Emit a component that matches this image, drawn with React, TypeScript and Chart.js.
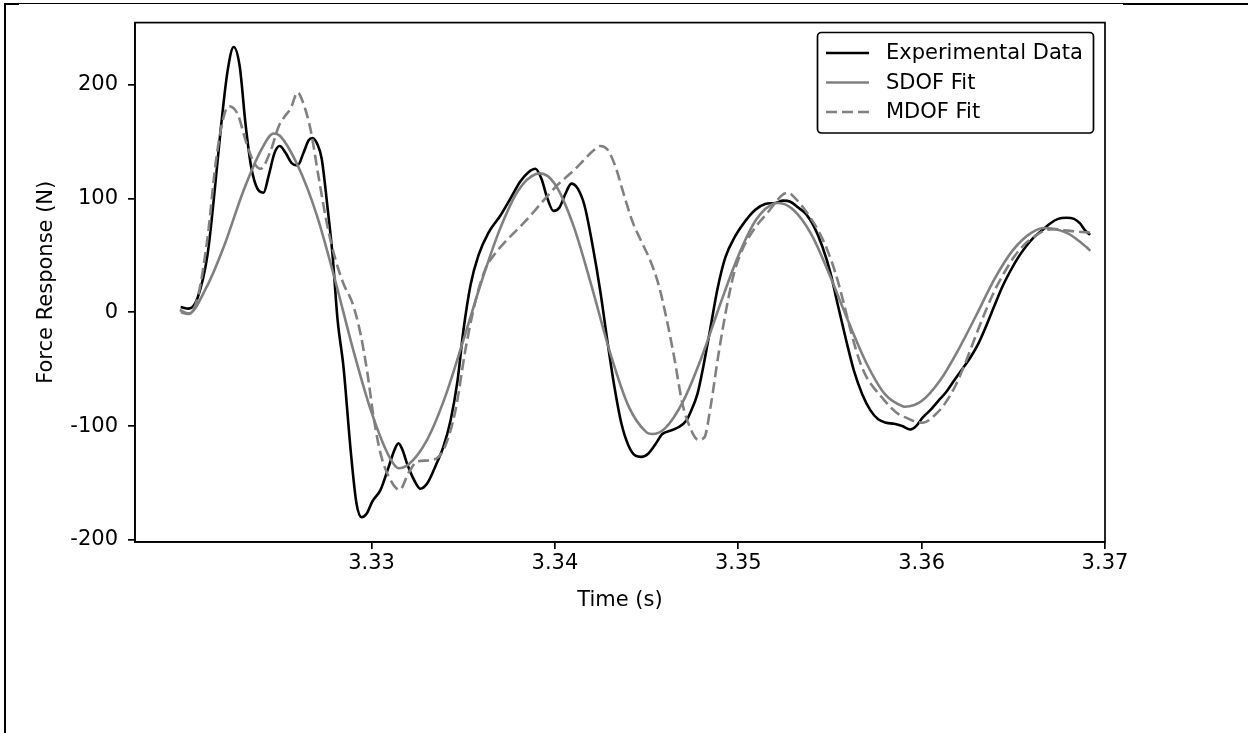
import { useEffect, useRef } from "react";
import { Chart, registerables } from "chart.js";

Chart.register(...registerables);

// ---- data (time in s, force in N) ----
const expTime = [
  3.31959, 3.32003, 3.32052, 3.32106, 3.32139, 3.32177, 3.32215, 3.32248, 3.32281, 3.32313,
  3.32341, 3.32362, 3.3239, 3.32411, 3.32439, 3.32471, 3.32499, 3.32531, 3.32564, 3.32597,
  3.32629, 3.32657, 3.32678, 3.32706, 3.32728, 3.3276, 3.32787, 3.32815, 3.32847, 3.32886,
  3.32918, 3.32946, 3.32973, 3.33005, 3.33049, 3.33093, 3.33125, 3.33147, 3.33169, 3.33196,
  3.33234, 3.33267, 3.33305, 3.33349, 3.33392, 3.33431, 3.33469, 3.33501, 3.3354, 3.33583,
  3.33638, 3.33703, 3.33758, 3.33812, 3.33856, 3.33894, 3.33927, 3.33959, 3.33992, 3.34025,
  3.34057, 3.3409, 3.34123, 3.34161, 3.34204, 3.34248, 3.34286, 3.34324, 3.34363, 3.34401,
  3.34439, 3.34472, 3.3451, 3.34548, 3.34586, 3.3463, 3.34673, 3.34717, 3.34739, 3.34777,
  3.34809, 3.34848, 3.34886, 3.34929, 3.34984, 3.35038, 3.35093, 3.35147, 3.35202, 3.35245,
  3.35284, 3.35327, 3.35371, 3.35414, 3.35458, 3.35502, 3.35545, 3.35589, 3.35632, 3.35676,
  3.3572, 3.35763, 3.35807, 3.3585, 3.35894, 3.35938, 3.3597, 3.36003, 3.36047, 3.3609,
  3.36134, 3.36177, 3.36221, 3.36265, 3.36308, 3.36352, 3.36395, 3.36439, 3.36483, 3.36526,
  3.3657, 3.36613, 3.36657, 3.36701, 3.36744, 3.36788, 3.36831, 3.36864, 3.36891, 3.36919,
];
const expForce = [
  4.6, 3.2, 13, 51, 98, 160, 212, 233, 216, 165,
  130, 115, 106, 105, 120, 140, 146, 140, 131, 129,
  140, 151, 153, 147, 135, 92, 51, -7, -48, -121,
  -168, -180, -177, -166, -156, -136, -121, -115, -121, -134,
  -148, -155, -150, -135, -118, -95, -60, -16, 24, 50,
  70, 85, 100, 115, 123, 126, 117, 100, 89, 92,
  104, 113, 109, 94, 60, 18, -25, -65, -98, -117,
  -126, -127, -124, -116, -107, -104, -101, -95, -88, -72,
  -48, -14, 20, 48, 67, 80, 90, 95, 96, 98,
  97, 92, 86, 75, 58, 35, 5, -25, -52, -72,
  -86, -94, -97, -98, -100, -103, -100, -93, -86, -78,
  -70, -60, -50, -40, -28, -12, 5, 22, 36, 48,
  58, 66, 72, 78, 82, 83, 82, 78, 72, 68,
];

const sdofTime = [
  3.3196, 3.32, 3.321, 3.322, 3.323, 3.324, 3.32466, 3.325, 3.326, 3.327,
  3.328, 3.329, 3.33, 3.331, 3.33147, 3.332, 3.333, 3.334, 3.335, 3.336,
  3.337, 3.338, 3.339, 3.33921, 3.34, 3.341, 3.342, 3.343, 3.344, 3.345,
  3.34531, 3.346, 3.347, 3.348, 3.349, 3.35, 3.351, 3.352, 3.35218, 3.353,
  3.354, 3.355, 3.356, 3.357, 3.358, 3.359, 3.3591, 3.36, 3.361, 3.362,
  3.363, 3.364, 3.365, 3.366, 3.36673, 3.367, 3.368, 3.369, 3.3692,
];
const sdofForce = [
  0, -1.5, 22, 60, 106, 143, 157, 155, 128, 86,
  29, -33, -88, -128, -137, -134, -113, -75, -25, 27,
  73, 107, 121.6, 122, 112.6, 76.5, 23, -35, -82, -105.5,
  -107, -102, -78, -39.5, 6.4, 49.5, 81.8, 95.7, 96, 90,
  68, 32, -8, -45, -72, -82.8, -83, -78, -60, -33,
  -2, 30, 55, 70, 74, 73.8, 69, 57, 54,
];

const mdofTime = [
  3.31954, 3.32003, 3.32052, 3.32106, 3.3215, 3.32188, 3.32221, 3.3227, 3.32313, 3.32357,
  3.32395, 3.3245, 3.32493, 3.32531, 3.32559, 3.32597, 3.32629, 3.32668, 3.32711, 3.3276,
  3.32804, 3.32847, 3.32896, 3.3294, 3.32978, 3.33011, 3.33049, 3.33093, 3.33153, 3.33202,
  3.33251, 3.33322, 3.33392, 3.33458, 3.33512, 3.33567, 3.33621, 3.33676, 3.3373, 3.33785,
  3.33839, 3.33894, 3.33948, 3.34003, 3.34057, 3.34112, 3.34166, 3.3421, 3.34248, 3.34286,
  3.3433, 3.34373, 3.34422, 3.34472, 3.34521, 3.34564, 3.34608, 3.34651, 3.34695, 3.34739,
  3.34782, 3.34815, 3.34848, 3.34891, 3.34935, 3.34978, 3.35022, 3.35066, 3.35109, 3.35153,
  3.35196, 3.3524, 3.35273, 3.35311, 3.35354, 3.35398, 3.35442, 3.35485, 3.35529, 3.35572,
  3.35616, 3.3566, 3.35703, 3.35747, 3.3579, 3.35834, 3.35878, 3.35921, 3.35965, 3.36008,
  3.36074, 3.36128, 3.36183, 3.36237, 3.36292, 3.36346, 3.36401, 3.36455, 3.3651, 3.36564,
  3.36619, 3.36673, 3.36728, 3.36782, 3.36837, 3.36919,
];
const mdofForce = [
  2, -1, 13, 66, 131, 168, 181, 174, 151, 132,
  126, 142, 163, 173, 179, 193, 183, 160, 119, 75,
  46, 25, 8, -19, -54, -92, -124, -144, -156, -141,
  -131, -130, -121, -86, -33, 10, 38, 52, 62, 71,
  80, 90, 100, 110, 118, 126, 135, 142, 146, 143,
  128, 105, 80, 62, 45, 25, -5, -40, -80, -102,
  -112, -110, -84, -38, 3, 35, 55, 68, 78, 86,
  95, 103, 105, 100, 92, 82, 70, 55, 35, 10,
  -18, -42, -58, -68, -76, -84, -90, -93, -96, -97,
  -90, -80, -65, -45, -22, 0, 20, 36, 50, 60,
  67, 72, 73, 72, 71, 70,
];

const seriesLabels = ["Experimental Data", "SDOF Fit", "MDOF Fit"];
const xTicks = [3.33, 3.34, 3.35, 3.36, 3.37];
const yTicks = [-200, -100, 0, 100, 200];
const xRange = [3.3171, 3.37];
const yRange = [-201.8, 254.4];
const xTitle = "Time (s)";
const yTitle = "Force Response (N)";

const FONT = "DejaVu Sans";
const FS = 21;

const pts = (xs: number[], ys: number[]) => xs.map((x, i) => ({ x, y: ys[i] }));

const framePlugin = {
  id: "frameAndLegend",
  afterDraw(chart: any) {
    const { ctx, chartArea: a } = chart;
    ctx.save();
    ctx.strokeStyle = "#000";
    ctx.lineWidth = 1.7;
    ctx.strokeRect(a.left, a.top, a.right - a.left, a.bottom - a.top);
    ctx.fillStyle = "#000";
    ctx.fillRect(4, 3, 2, 730);
    ctx.fillRect(4, 3, 15, 2);
    ctx.fillRect(19, 3, 1104, 1);
    ctx.fillRect(1123, 3, 125, 2);
    const lx = 817.5, ly = 32.5, lw = 276, lh = 100.5;
    ctx.beginPath();
    ctx.roundRect(lx, ly, lw, lh, 4);
    ctx.fillStyle = "#fff";
    ctx.fill();
    ctx.lineWidth = 1.7;
    ctx.strokeStyle = "#000";
    ctx.stroke();
    ctx.font = `${FS}px "${FONT}"`;
    ctx.textBaseline = "middle";
    ctx.textAlign = "left";
    chart.data.datasets.forEach((ds: any, i: number) => {
      const y = 53 + i * 29.5;
      ctx.beginPath();
      ctx.setLineDash(ds.borderDash || []);
      ctx.strokeStyle = ds.borderColor;
      ctx.lineWidth = ds.borderWidth;
      ctx.moveTo(826, y);
      ctx.lineTo(869, y);
      ctx.stroke();
      ctx.setLineDash([]);
      ctx.fillStyle = "#000";
      ctx.fillText(ds.label, 886, y + 1);
    });
    ctx.restore();
  },
};

export default function App() {
  const ref = useRef<HTMLCanvasElement>(null);
  useEffect(() => {
    Chart.defaults.font.family = FONT;
    Chart.defaults.color = "#000";
    const chart = new Chart(ref.current!, {
      type: "line",
      data: {
        datasets: [
          {
            label: seriesLabels[0],
            data: pts(expTime, expForce),
            borderColor: "#000000",
            borderWidth: 2.6,
            pointRadius: 0,
            cubicInterpolationMode: "monotone",
            order: 3,
          },
          {
            label: seriesLabels[1],
            data: pts(sdofTime, sdofForce),
            borderColor: "#808080",
            borderWidth: 2.6,
            pointRadius: 0,
            cubicInterpolationMode: "monotone",
            order: 2,
          },
          {
            label: seriesLabels[2],
            data: pts(mdofTime, mdofForce),
            borderColor: "#808080",
            borderWidth: 2.6,
            borderDash: [11, 5],
            pointRadius: 0,
            cubicInterpolationMode: "monotone",
            order: 1,
          },
        ],
      },
      options: {
        responsive: false,
        animation: false,
        events: [],
        layout: { padding: { left: 34, top: 22, right: 143, bottom: 120 } },
        plugins: { legend: { display: false }, tooltip: { enabled: false } },
        scales: {
          x: {
            type: "linear",
            min: xRange[0],
            max: xRange[1],
            afterBuildTicks: (s: any) => {
              s.ticks = xTicks.map((v) => ({ value: v }));
            },
            afterFit: (s: any) => {
              s.height = 71;
            },
            ticks: {
              autoSkip: false,
              maxRotation: 0,
              padding: 2,
              color: "#000",
              font: { size: FS },
              callback: (v: any) => Number(v).toFixed(2),
            },
            grid: {
              drawOnChartArea: false,
              drawTicks: true,
              tickLength: 7,
              color: "#000",
              lineWidth: 1.7,
            },
            border: { display: true, color: "#000", width: 1.7 },
            title: {
              display: true,
              text: xTitle,
              color: "#000",
              font: { size: FS },
              padding: 0,
            },
          },
          y: {
            type: "linear",
            min: yRange[0],
            max: yRange[1],
            afterBuildTicks: (s: any) => {
              s.ticks = yTicks.map((v) => ({ value: v }));
            },
            afterFit: (s: any) => {
              s.width = 101;
            },
            ticks: {
              autoSkip: false,
              padding: 10,
              color: "#000",
              font: { size: FS },
              callback: (v: any) => String(v),
            },
            grid: {
              drawOnChartArea: false,
              drawTicks: true,
              tickLength: 7,
              color: "#000",
              lineWidth: 1.7,
            },
            border: { display: true, color: "#000", width: 1.7 },
            title: {
              display: true,
              text: yTitle,
              color: "#000",
              font: { size: FS },
              padding: 0,
            },
          },
        },
      },
      plugins: [framePlugin],
    } as any);
    return () => chart.destroy();
  }, []);
  return (
    <div style={{ position: "fixed", left: 0, top: 0, width: 1248, height: 733, background: "#fff" }}>
      <canvas ref={ref} width={1248} height={733} style={{ display: "block", width: 1248, height: 733 }} />
    </div>
  );
}
